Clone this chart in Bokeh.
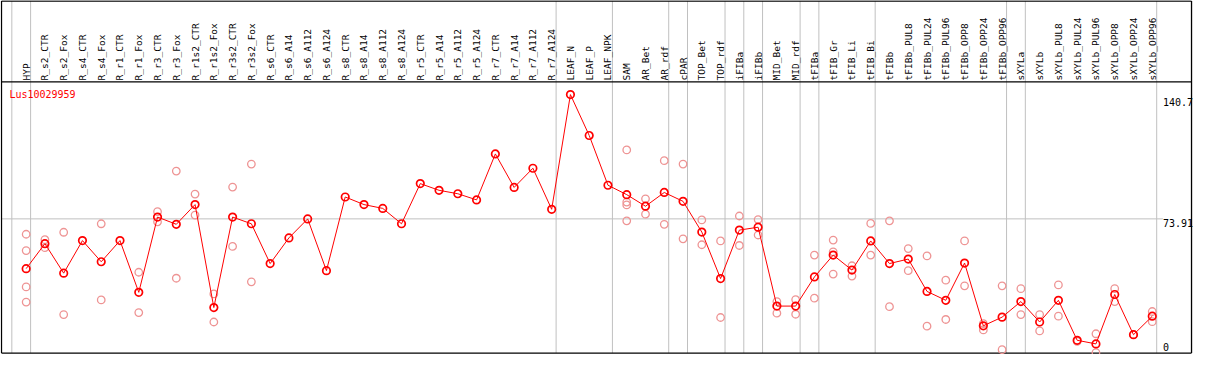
from bokeh.plotting import figure
from bokeh.models import Range1d, ColumnDataSource
from bokeh.core.properties import value
from bokeh.embed import file_html
from bokeh.resources import INLINE

gene = "Lus10029959"
categories = ["HYP", "R_s2_CTR", "R_s2_Fox", "R_s4_CTR", "R_s4_Fox", "R_r1_CTR", "R_r1_Fox",
              "R_r3_CTR", "R_r3_Fox", "R_r1s2_CTR", "R_r1s2_Fox", "R_r3s2_CTR", "R_r3s2_Fox",
              "R_s6_CTR", "R_s6_A14", "R_s6_A112", "R_s6_A124", "R_s8_CTR", "R_s8_A14", "R_s8_A112",
              "R_s8_A124", "R_r5_CTR", "R_r5_A14", "R_r5_A112", "R_r5_A124", "R_r7_CTR", "R_r7_A14",
              "R_r7_A112", "R_r7_A124", "LEAF_N", "LEAF_P", "LEAF_NPK", "SAM", "AR_Bet", "AR_rdf",
              "cPAR", "TOP_Bet", "TOP_rdf", "iFIBa", "iFIBb", "MID_Bet", "MID_rdf", "tFIBa",
              "tFIB_Gr", "tFIB_Li", "tFIB_Bi", "tFIBb", "tFIBb_PUL8", "tFIBb_PUL24", "tFIBb_PUL96",
              "tFIBb_OPP8", "tFIBb_OPP24", "tFIBb_OPP96", "sXYLa", "sXYLb", "sXYLb_PUL8",
              "sXYLb_PUL24", "sXYLb_PUL96", "sXYLb_OPP8", "sXYLb_OPP24", "sXYLb_OPP96"]

means = [46.4, 60.2, 43.9, 61.9, 50.2, 61.9, 33.3, 74.9, 70.9, 81.8, 24.9, 74.9, 71.2,
         49.2, 63.4, 73.9, 45.3, 86.0, 81.8, 79.7, 71.2, 93.4, 89.7, 87.8, 84.4, 109.8, 91.3,
         101.9, 79.2, 142.6, 120.0, 92.5, 87.3, 80.9, 88.5, 83.6, 66.6, 40.9, 67.7, 69.3,
         25.7, 25.7, 41.8, 53.9, 45.6, 61.7, 49.2, 51.7, 33.8, 28.9, 49.5, 14.8, 19.6, 28.2,
         16.9, 28.9, 6.8, 4.8, 32.1, 9.9, 20.1]

replicates = [[65.4, 56.4, 36.3, 27.9], [62.4, 58.0], [66.5, 21.0], [], [71.2, 29.1], [],
              [44.4, 22.1], [77.9, 72.3], [100.3, 41.1], [87.6, 76.0], [32.4, 16.9],
              [91.5, 58.7], [104.2, 39.1],
              [], [], [], [], [], [], [], [], [], [], [], [], [], [], [], [], [], [], [],
              [112.0, 83.2, 81.6, 72.8], [85.0, 76.5], [106.1, 70.9], [104.2, 62.9],
              [73.3, 59.6], [61.7, 19.4], [75.5, 59.2], [73.5, 65.0], [28.2, 21.8],
              [29.3, 21.2], [53.9, 30.1], [62.2, 55.7, 43.4], [48.0, 42.3], [71.4, 53.9],
              [72.8, 25.4], [57.5, 45.3], [53.4, 14.6], [40.0, 18.3], [61.7, 36.9],
              [16.0, 12.5], [36.9, 1.6], [35.3, 21.0], [21.0, 12.0], [37.4, 20.1], [6.2],
              [10.4, 0.0], [35.3, 28.2], [9.9], [22.7, 17.1]]

group_sizes = [1, 28, 3, 3, 1, 2, 1, 1, 2, 1, 3, 7, 1, 7]
tick_values = [140.7, 73.91, 0]
tick_labels = ["140.7", "73.91", "0"]
grid_value = 73.91

# ---- geometry (reference pixel space mapped to data space) ----
COL0, COLW = 26.0, 19.02     # px of first column, px per column
Y0PX, PXU = 368.0, 1.891     # px of value 0, px per unit
def xi(px):
    return (px - COL0) / COLW
def yv(px):
    return (Y0PX - px) / PXU

W, H = 1193, 354
p = figure(width=W, height=H, output_backend="svg", toolbar_location=None,
           x_range=Range1d(xi(0), xi(1209)), y_range=Range1d(yv(370), yv(0)),
           x_axis_location=None, y_axis_location=None, min_border=0)
p.grid.visible = False
p.outline_line_color = None
p.background_fill_color = "white"

top_v, bot_v, head_v = yv(0.5), yv(368.5), yv(85)
left_x, right_x = xi(1), xi(1207)

# separators
sep = [-1]
acc = -1
for g in group_sizes:
    acc += g
    sep.append(acc)
sep_x = [s + 4.5 / COLW for s in sep]
p.segment(x0=sep_x, x1=sep_x, y0=[top_v] * len(sep_x), y1=[bot_v] * len(sep_x),
          line_color="#C0C0C0", line_width=1)

# grid line
tick_x = xi(1178)
p.segment(x0=[left_x], x1=[tick_x], y0=[grid_value], y1=[grid_value],
          line_color="#C0C0C0", line_width=1)

# frame
p.segment(x0=[left_x, left_x, left_x, left_x, right_x],
          x1=[right_x, right_x, right_x, left_x, right_x],
          y0=[top_v, bot_v, head_v, top_v, top_v],
          y1=[top_v, bot_v, head_v, bot_v, bot_v],
          line_color="black", line_width=1.3)

# replicates
rx, ry = [], []
for i, reps in enumerate(replicates):
    for r in reps:
        rx.append(i)
        ry.append(r)
p.scatter(rx, ry, marker="circle", size=7.5, fill_color=None,
          line_color="#EE9494", line_width=1.3)

xs = list(range(len(categories)))
p.line(xs, means, line_color="red", line_width=1)
p.scatter(xs, means, marker="circle", size=7.5, fill_color=None,
          line_color="red", line_width=1.7)

# header labels
p.text(x=xs, y=[yv(83.5)] * len(xs), text=categories, angle=1.5707963,
       text_align="left", text_baseline="middle", text_font=value("DejaVu Sans Mono"),
       text_font_size="9.5px", text_color="black")

# gene label
p.text(x=[xi(9)], y=[yv(92)], text=[gene], text_align="left", text_baseline="top",
       text_font=value("DejaVu Sans Mono"), text_font_size="10px", text_color="red")

# right tick labels
nz = [(v, t) for v, t in zip(tick_values, tick_labels) if v != 0]
p.text(x=[tick_x] * len(nz), y=[v for v, _ in nz], text=[t for _, t in nz],
       text_align="left", text_baseline="top", y_offset=0,
       text_font=value("DejaVu Sans Mono"), text_font_size="10px", text_color="black")
z = [(v, t) for v, t in zip(tick_values, tick_labels) if v == 0]
p.text(x=[tick_x] * len(z), y=[yv(366)] * len(z), text=[t for _, t in z],
       text_align="left", text_baseline="bottom",
       text_font=value("DejaVu Sans Mono"), text_font_size="10px", text_color="black")

open("out.html", "w").write(file_html(p, INLINE))
